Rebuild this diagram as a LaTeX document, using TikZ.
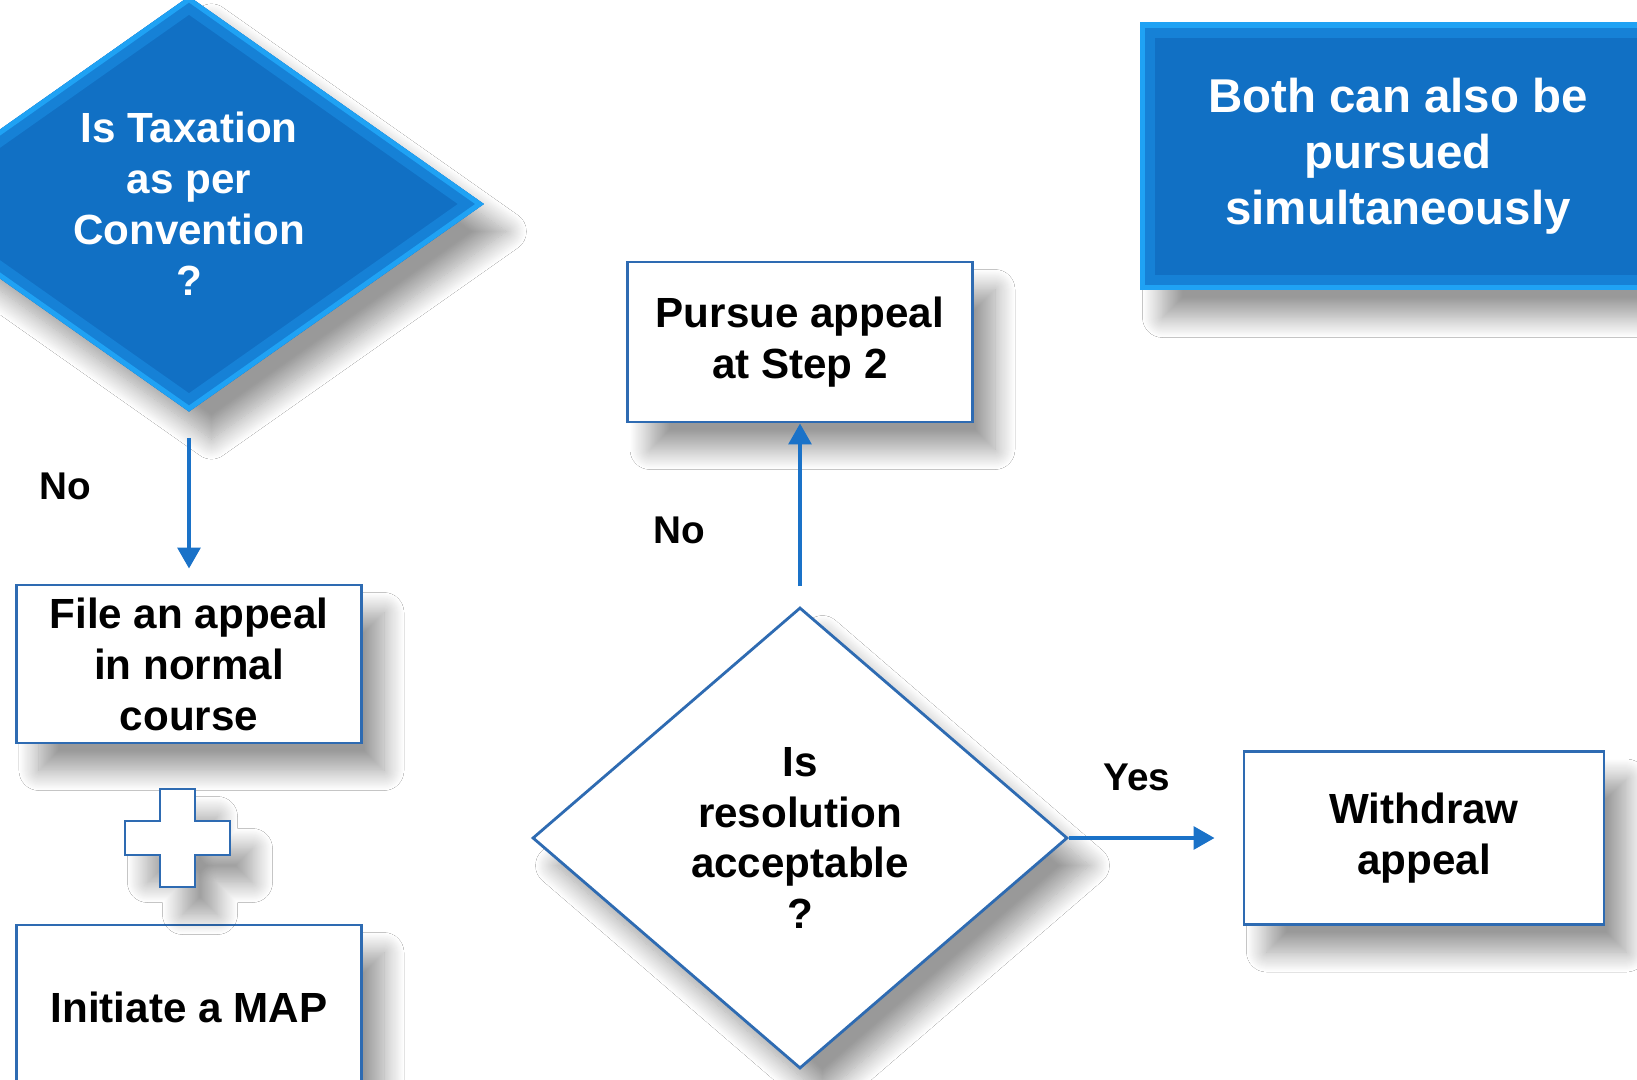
\documentclass[tikz,border=0pt]{standalone}
\usepackage{fontspec}
\setmainfont{Liberation Sans}
\usetikzlibrary{shapes.geometric}
\usetikzlibrary{arrows.meta}
\usetikzlibrary{shadows.blur}
\definecolor{mapblue}{HTML}{1170C4}
\definecolor{mapmid}{HTML}{1681D6}
\definecolor{maplight}{HTML}{1FA2F4}
\definecolor{mapedge}{HTML}{2E6BB2}
\definecolor{arrblue}{HTML}{1A72C8}

\begin{document}
\begin{tikzpicture}
    [
    soft/.style = {blur shadow={shadow xshift=0.45cm, shadow yshift=-0.55cm, shadow blur radius=0.4cm, shadow blur steps=20, shadow opacity=40}},
    txt/.style = {font=\bfseries\fontsize{24}{29}\selectfont, align=center},
    dbevel/.style = {path picture={
        \draw[mapmid, line width=0.6cm] (path picture bounding box.north) -- (path picture bounding box.east) -- (path picture bounding box.south) -- (path picture bounding box.west) -- cycle;
        \draw[maplight, line width=0.2cm] (path picture bounding box.north) -- (path picture bounding box.east) -- (path picture bounding box.south) -- (path picture bounding box.west) -- cycle;}},
    rbevel/.style = {path picture={
        \draw[mapmid, line width=0.6cm] (path picture bounding box.north west) rectangle (path picture bounding box.south east);
        \draw[maplight, line width=0.2cm] (path picture bounding box.north west) rectangle (path picture bounding box.south east);}},
    bluediam/.style = {diamond, fill=mapblue, text=white, inner sep=0pt, soft, dbevel, txt},
    whitediam/.style = {diamond, draw=mapedge, line width=1.6pt, fill=white, inner sep=0pt, soft, txt},
    box/.style = {rectangle, draw=mapedge, line width=1.6pt, fill=white, inner sep=0pt, soft, txt},
    lbl/.style = {font=\bfseries\fontsize{22}{26}\selectfont},
    arr/.style = {draw=arrblue, line width=2.5pt, -{Triangle[length=0.42cm,width=0.45cm]}}
    ]
\useasboundingbox (0,0) rectangle (32.74,-21.6);
\fill[white] (0,0) rectangle (32.74,-21.6);

\node[bluediam, minimum width=11.8cm, minimum height=7.88cm] (taxq) at (3.78,-4.08) {Is Taxation\\as per\\Convention\\?};
\node[rectangle, fill=mapblue, text=white, inner sep=0pt, soft, rbevel, txt, font=\bfseries\fontsize{27}{32}\selectfont, minimum width=10.32cm, minimum height=5.34cm] (note) at (27.96,-3.13) {Both can also be\\pursued\\simultaneously};

\node[box, minimum width=6.9cm, minimum height=3.2cm] (pursue) at (16.0,-6.84) {Pursue appeal\\at Step 2};
\node[box, minimum width=6.9cm, minimum height=3.16cm] (file) at (3.78,-13.28) {File an appeal\\in normal\\course};
\node[box, minimum width=6.9cm, minimum height=3.28cm] (map) at (3.78,-20.14) {Initiate a MAP};
\node[whitediam, minimum width=10.7cm, minimum height=9.22cm] (resq) at (16.0,-16.76) {Is\\resolution\\acceptable\\?};
\node[box, minimum width=7.2cm, minimum height=3.46cm] (withdraw) at (28.48,-16.76) {Withdraw\\appeal};

% plus sign between the two boxes
\draw[mapedge, line width=1.6pt, fill=white, soft] (3.2,-15.78) -- ++(0.7,0) -- ++(0,-0.64) -- ++(0.7,0) -- ++(0,-0.68) -- ++(-0.7,0) -- ++(0,-0.64) -- ++(-0.7,0) -- ++(0,0.64) -- ++(-0.7,0) -- ++(0,0.68) -- ++(0.7,0) -- cycle;

\draw[arr, shorten <=0.52cm, shorten >=0.3cm] (taxq) -- (file);
\draw[arr, shorten <=0.4cm] (resq) -- (pursue);
\draw[arr, shorten >=0.56cm] (resq) -- (withdraw);

\node[lbl] (no1) at (1.3,-9.72) {No};
\node[lbl] (no2) at (13.58,-10.6) {No};
\node[lbl] (yes) at (22.74,-15.54) {Yes};
\end{tikzpicture}
\end{document}
